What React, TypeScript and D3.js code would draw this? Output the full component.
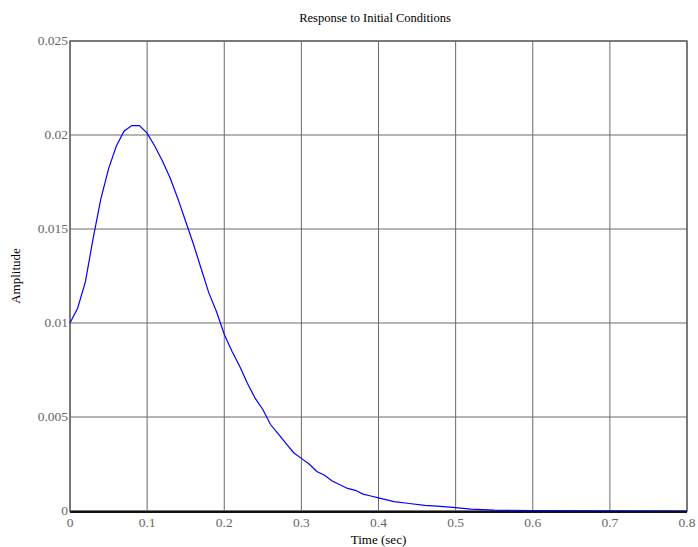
import React from 'react';
import * as d3 from 'd3';

const timeSec = [
  0, 0.01, 0.02, 0.03, 0.04, 0.05, 0.06, 0.07, 0.08, 0.09, 0.1, 0.11, 0.12, 0.13, 0.14, 0.15,
  0.16, 0.17, 0.18, 0.19, 0.2, 0.21, 0.22, 0.23, 0.24, 0.25, 0.26, 0.27, 0.28, 0.29, 0.3,
  0.31, 0.32, 0.33, 0.34, 0.35, 0.36, 0.37, 0.38, 0.39, 0.4, 0.42, 0.44, 0.46, 0.48, 0.5,
  0.52, 0.55, 0.6, 0.7, 0.8,
];
const amplitude = [
  0.01, 0.0108, 0.0122, 0.0145, 0.0166, 0.0182, 0.0194, 0.0202, 0.0205, 0.0205, 0.0201, 0.0194,
  0.0186, 0.0177, 0.0166, 0.0154, 0.0142, 0.0129, 0.0116, 0.0106, 0.0094, 0.0085, 0.0077,
  0.0068, 0.006, 0.0054, 0.0046, 0.0041, 0.0036, 0.0031, 0.0028, 0.0025, 0.0021, 0.0019,
  0.0016, 0.0014, 0.0012, 0.0011, 0.0009, 0.0008, 0.0007, 0.0005, 0.0004, 0.0003, 0.00025,
  0.00018, 0.0001, 0.00005, 0.00002, 0.00001, 0,
];
const xTicks = [0, 0.1, 0.2, 0.3, 0.4, 0.5, 0.6, 0.7, 0.8];
const yTicks = [0, 0.005, 0.01, 0.015, 0.02, 0.025];

const W = 698;
const H = 547;
const margin = { left: 70, right: 11, top: 41, bottom: 36 };

export default function App() {
  const x = d3.scaleLinear().domain([0, 0.8]).range([margin.left, W - margin.right]);
  const y = d3.scaleLinear().domain([0, 0.025]).range([H - margin.bottom, margin.top]);
  const pts = timeSec.map((t, i) => [t, amplitude[i]] as [number, number]);
  const line = d3.line<[number, number]>().x(d => x(d[0])).y(d => y(d[1]));
  const font = '"Liberation Serif", "Times New Roman", serif';
  const x0 = x(0), x1 = x(0.8), y0 = y(0), y1 = y(0.025);

  return (
    <svg width={W} height={H} style={{ position: 'absolute', left: 0, top: 0, background: '#fff' }} fontFamily={font}>
      {/* grid */}
      {xTicks.map(t => (
        <line key={'gx' + t} x1={x(t)} x2={x(t)} y1={y1} y2={y0} stroke="#6a6a6a" strokeWidth={1} />
      ))}
      {yTicks.map(t => (
        <line key={'gy' + t} x1={x0} x2={x1} y1={y(t)} y2={y(t)} stroke="#6a6a6a" strokeWidth={1} />
      ))}
      <rect x={x0} y={y1} width={x1 - x0} height={y0 - y1} fill="none" stroke="#666" strokeWidth={1.5} />

      <path d={line(pts) || ''} fill="none" stroke="#0000ff" strokeWidth={1.2} />
      <line x1={x0} x2={x1} y1={y0 + 1} y2={y0 + 1} stroke="#111" strokeWidth={2} />

      {/* tick labels */}
      {xTicks.map(t => (
        <text key={'tx' + t} x={x(t)} y={y0 + 16} textAnchor="middle" fontSize={13.5} fill="#666">
          {t === 0 ? '0' : String(t)}
        </text>
      ))}
      {yTicks.map(t => (
        <text key={'ty' + t} x={x0 - 2} y={y(t)} dy="0.32em" textAnchor="end" fontSize={13.5} fill="#666">
          {t === 0 ? '0' : String(t)}
        </text>
      ))}

      <text x={375} y={22} textAnchor="middle" fontSize={12.5} fill="#000">
        Response to Initial Conditions
      </text>
      <text x={(x0 + x1) / 2} y={H - 3} textAnchor="middle" fontSize={13} fill="#000">
        Time (sec)
      </text>
      <text transform={`translate(20,${(y0 + y1) / 2}) rotate(-90)`} textAnchor="middle" fontSize={13} fill="#000">
        Amplitude
      </text>
    </svg>
  );
}
